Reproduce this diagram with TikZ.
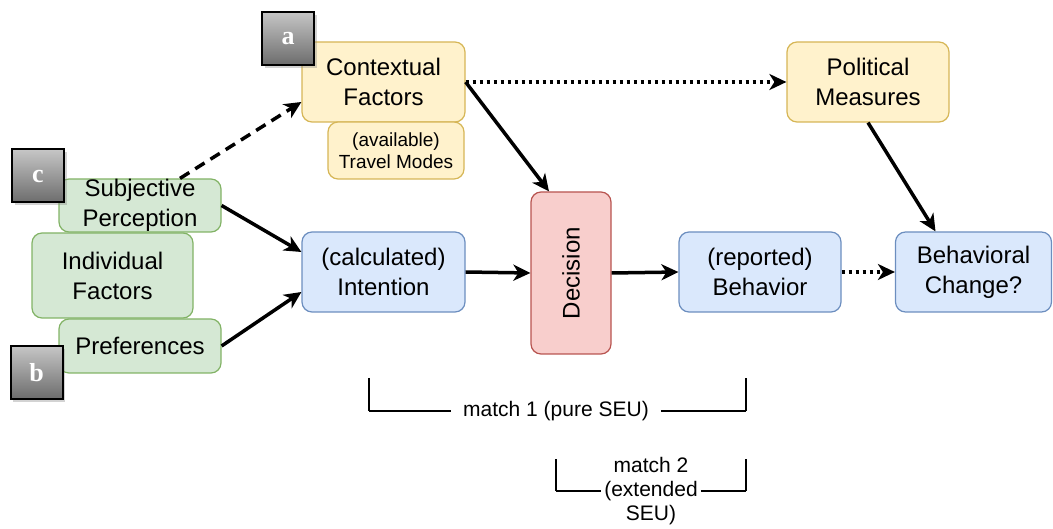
\documentclass[tikz,border=0pt]{standalone}
\usepackage{fontspec}
\setmainfont{Liberation Sans}
\newfontfamily\tagfont{Liberation Serif}
\usepackage{tikz}
\usetikzlibrary{arrows.meta,shadows}
\pgfdeclarelayer{bg}
\pgfsetlayers{bg,main}

\definecolor{ylwfill}{HTML}{FFF2CC}
\definecolor{ylwline}{HTML}{D6B656}
\definecolor{bluefill}{HTML}{DAE8FC}
\definecolor{blueline}{HTML}{6C8EBF}
\definecolor{redfill}{HTML}{F8CECC}
\definecolor{redline}{HTML}{B85450}
\definecolor{grnfill}{HTML}{D5E8D4}
\definecolor{grnline}{HTML}{82B366}

\tikzset{
  box/.style={rounded corners=10pt, line width=1.2pt, align=center, inner sep=0pt,
    font=\fontsize{24}{30}\selectfont},
  ctxbox/.style={box, fill=ylwfill, draw=ylwline},
  intbox/.style={box, fill=bluefill, draw=blueline},
  decbox/.style={box, fill=redfill, draw=redline},
  indbox/.style={box, fill=grnfill, draw=grnline},
  tagbox/.style={draw=black, line width=2pt, top color=gray!45, bottom color=gray!85!black,
    minimum width=52pt, minimum height=53pt, text=white,
    font=\tagfont\bfseries\fontsize{26}{26}\selectfont, drop shadow={opacity=0.35}},
  arr/.style={line width=3.5pt, -{Stealth[length=17pt,width=16pt,inset=5pt]}},
  dotarr/.style={arr, dash pattern=on 3.5pt off 3.5pt},
  dasharr/.style={arr, dash pattern=on 11pt off 7pt},
  brk/.style={line width=2.5pt},
}

\begin{document}
\begin{tikzpicture}[x=1pt,y=-1pt]
        \useasboundingbox (0,0) rectangle (1053,529);
        \node (ctx) [ctxbox, minimum width=163pt, minimum height=80pt] at (383.5, 82) {Contextual\\Factors};
        \node (modes) [ctxbox, minimum width=136pt, minimum height=57pt, font=\fontsize{19}{22}\selectfont] at (396, 150.5) {(available)\\Travel Modes};
        \node (pol) [ctxbox, minimum width=162pt, minimum height=80pt] at (868, 82) {Political\\Measures};
        \node (dec) [decbox, minimum width=80pt, minimum height=162pt] at (571, 273) {\rotatebox{90}{Decision}};
        \node (intent) [intbox, minimum width=163pt, minimum height=80pt] at (383.5, 272) {(calculated)\\Intention};
        \node (behav) [intbox, minimum width=162pt, minimum height=80pt] at (760, 272) {(reported)\\Behavior};
        \node (change) [intbox, minimum width=156pt, minimum height=80pt] at (973.5, 272) {Behavioral\\Change?};
        \node (subj) [indbox, minimum width=162pt, minimum height=53pt] at (140, 205.5) {Subjective\\Perception};
        \node (indiv) [indbox, minimum width=161pt, minimum height=85pt] at (112.5, 275.5) {Individual\\Factors};
        \node (pref) [indbox, minimum width=162pt, minimum height=54pt] at (140, 346) {Preferences};
        \node (tagA) [tagbox] at (288, 38.5) {a};
        \node (tagC) [tagbox] at (38, 176) {c};
        \node (tagB) [tagbox] at (36.5, 372.5) {b};

        \coordinate (m1l) at (369, 378);
        \coordinate (m1r) at (746, 378);
        \node (m1) [inner xsep=12pt, font=\fontsize{21}{25}\selectfont] at (556, 411) {match 1 (pure SEU)};
        \coordinate (m2l) at (556, 459);
        \coordinate (m2r) at (746, 459);
        \node (m2) [inner xsep=3pt, align=center, font=\fontsize{21}{24}\selectfont] at (651, 491) {match 2\\(extended\\SEU)};
        \begin{pgfonlayer}{bg}
                \draw (m1l) edge [brk] (m1l |- m1.west);
                \draw (m1l |- m1.west) edge [brk] (m1.west);
                \draw (m1.east) edge [brk] (m1r |- m1.east);
                \draw (m1r |- m1.east) edge [brk] (m1r);
                \draw (m2l) edge [brk] (m2l |- m2.west);
                \draw (m2l |- m2.west) edge [brk] (m2.west);
                \draw (m2.east) edge [brk] (m2r |- m2.east);
                \draw (m2r |- m2.east) edge [brk] (m2r);
        \end{pgfonlayer}
        \draw ([xshift=40pt]subj.north) edge [dasharr] ([yshift=-20pt]ctx.west);
        \draw (subj.east) edge [arr] ([yshift=20pt]intent.west);
        \draw (pref.east) edge [arr] ([yshift=-20pt]intent.west);
        \draw (ctx.east) edge [dotarr] (pol.west);
        \draw (ctx.east) edge [arr] ([xshift=-22pt]dec.north);
        \draw (intent.east) edge [arr] (dec.west);
        \draw (dec.east) edge [arr] (behav.west);
        \draw (behav.east) edge [dotarr] (change.west);
        \draw (pol.south) edge [arr] ([xshift=-38pt]change.north);
\end{tikzpicture}
\end{document}
